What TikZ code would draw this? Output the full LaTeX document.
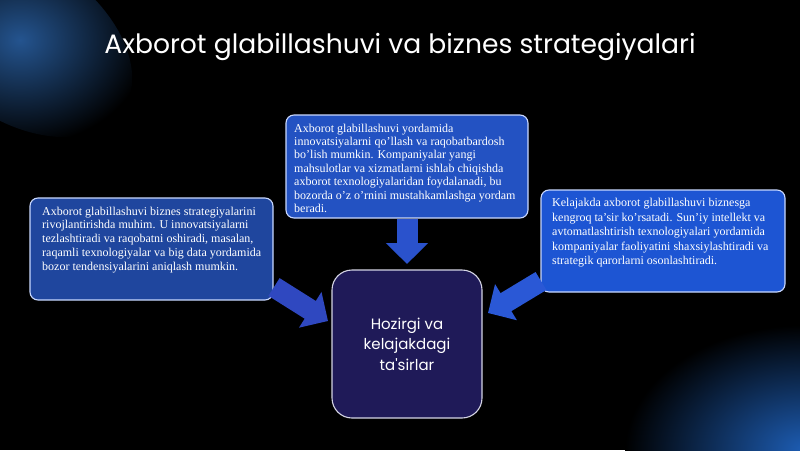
\documentclass[tikz,border=0pt]{standalone}
\usepackage{fontspec}
\setmainfont{Liberation Serif}
\newfontfamily\popfont{Poppins}
\usetikzlibrary{arrows.meta,calc}
\definecolor{bgblack}{HTML}{000000}
\definecolor{glowblue}{HTML}{24548F}
\definecolor{glowblue2}{HTML}{1D5DB4}
\definecolor{topfill}{HTML}{2352C2}
\definecolor{leftfill}{HTML}{1F469E}
\definecolor{rightfill}{HTML}{1D55D3}
\definecolor{boxedge}{HTML}{C9D8FF}
\definecolor{centerfill}{HTML}{1F1A58}
\definecolor{centeredge}{HTML}{D4D4E4}
\definecolor{arrowtop}{HTML}{2A52CC}
\definecolor{arrowleft}{HTML}{2F48C0}
\definecolor{arrowright}{HTML}{2A58D6}
\tikzset{
  infobox/.style={draw=boxedge, line width=1.1pt, rounded corners=8pt},
  infotext/.style={anchor=north west, align=left, inner sep=0pt, text=white},
  centerbox/.style={draw=centeredge, line width=1.1pt, rounded corners=20pt, fill=centerfill,
    minimum width=150pt, minimum height=148pt, align=center, text=white,
    font=\popfont\fontsize{15}{20.5}\selectfont},
  blockarrow/.style={line width=21pt, -{Triangle[width=41pt,length=21pt]}},
}
\begin{document}
\begin{tikzpicture}[x=1pt,y=-1pt]
\useasboundingbox (0,0) rectangle (800,450);
\fill[bgblack] (0,0) rectangle (800,450);
\begin{scope}
\clip (0,0) rectangle (800,450);
\shade[inner color=glowblue, outer color=bgblack, rotate around={-35:(20,40)}] (20,40) ellipse (125 and 80);
\shade[inner color=glowblue2, outer color=bgblack] (805,450) ellipse (180 and 125);
\end{scope}
\node[text=white, font=\popfont\fontsize{26.6}{30}\selectfont] (title) at (400,47) {Axborot glabillashuvi va biznes strategiyalari};
% boxes
\path[infobox, fill=topfill] (286,115) rectangle (528,218);
\node[infotext, font=\fontsize{12}{13.4}\selectfont] (toptext) at (294,123.5) {Axborot glabillashuvi yordamida\\innovatsiyalarni qo'llash va raqobatbardosh\\bo'lish mumkin. Kompaniyalar yangi\\mahsulotlar va xizmatlarni ishlab chiqishda\\axborot texnologiyalaridan foydalanadi, bu\\bozorda o'z o'rnini mustahkamlashga yordam\\beradi.};
\path[infobox, fill=leftfill] (30,198) rectangle (273,300);
\node[infotext, font=\fontsize{12}{13.8}\selectfont] (lefttext) at (42,206.5) {Axborot glabillashuvi biznes strategiyalarini\\rivojlantirishda muhim. U innovatsiyalarni\\tezlashtiradi va raqobatni oshiradi, masalan,\\raqamli texnologiyalar va big data yordamida\\bozor tendensiyalarini aniqlash mumkin.};
\path[infobox, fill=rightfill] (541,190) rectangle (785,292);
\node[infotext, font=\fontsize{12}{14.5}\selectfont] (righttext) at (552,198) {Kelajakda axborot glabillashuvi biznesga\\kengroq ta'sir ko'rsatadi. Sun'iy intellekt va\\avtomatlashtirish texnologiyalari yordamida\\kompaniyalar faoliyatini shaxsiylashtiradi va\\strategik qarorlarni osonlashtiradi.};
\node[centerbox] (center) at (407,344) {Hozirgi va\\kelajakdagi\\ta'sirlar};
% arrow endpoints
\coordinate (topstart) at (407,218.5);
\coordinate (toptip) at (407,264);
\coordinate (leftstart) at (274,287);
\coordinate (lefttip) at (328,321);
\coordinate (rightstart) at (541,281);
\coordinate (righttip) at (488,313);
\draw[blockarrow, arrowtop] (topstart) -- (toptip);
\draw[blockarrow, arrowleft] (leftstart) -- (lefttip);
\draw[blockarrow, arrowright] (rightstart) -- (righttip);
\end{tikzpicture}
\end{document}
